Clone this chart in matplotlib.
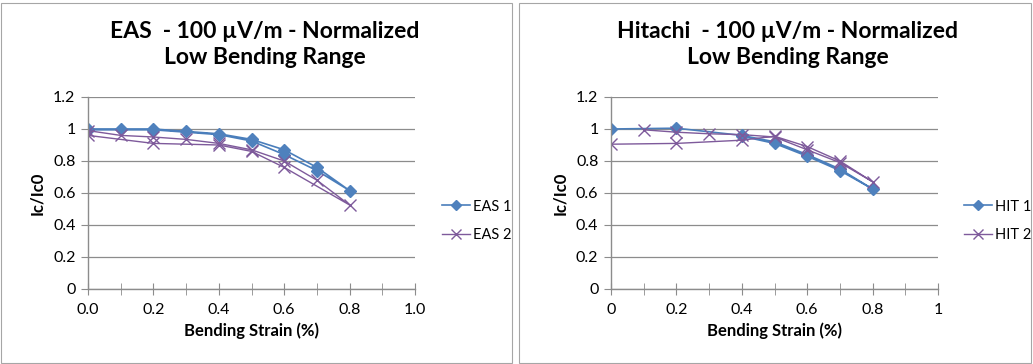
import matplotlib.pyplot as plt
from matplotlib.patches import Rectangle
from matplotlib.ticker import MultipleLocator

plt.rcParams['font.family'] = ['Lato', 'DejaVu Sans']

# EAS - strain sweep out and back
eas_x1 = [0.0, 0.1, 0.2, 0.3, 0.4, 0.5, 0.6, 0.7, 0.8, 0.7, 0.6, 0.5, 0.4, 0.2, 0.0]
eas_y1 = [1.0, 1.0, 1.0, 0.985, 0.97, 0.935, 0.87, 0.76, 0.615, 0.74, 0.84, 0.925, 0.965, 0.995, 0.995]
eas_x2 = [0.0, 0.1, 0.2, 0.3, 0.4, 0.5, 0.6, 0.7, 0.8, 0.6, 0.5, 0.4, 0.2, 0.0]
eas_y2 = [0.99, 0.96, 0.95, 0.935, 0.91, 0.87, 0.80, 0.68, 0.525, 0.76, 0.86, 0.90, 0.91, 0.96]

# Hitachi
hit_x1 = [0.0, 0.2, 0.4, 0.5, 0.6, 0.7, 0.8, 0.7, 0.6, 0.5, 0.4]
hit_y1 = [1.0, 1.005, 0.96, 0.92, 0.84, 0.75, 0.625, 0.74, 0.83, 0.91, 0.955]
hit_x2 = [0.0, 0.2, 0.4, 0.5, 0.6, 0.7, 0.8, 0.7, 0.6, 0.5, 0.4, 0.3, 0.2, 0.1]
hit_y2 = [0.905, 0.91, 0.93, 0.955, 0.89, 0.80, 0.67, 0.79, 0.87, 0.95, 0.965, 0.97, 0.98, 0.995]

blue = '#4A7EBB'
blue_fill = '#4F81BD'
purple = '#7E5A9B'
W, H = 1033, 364

fig = plt.figure(figsize=(W / 100, H / 100), dpi=100)

# chart frames
for x0, x1 in [(1, 512), (519, 1031)]:
    fig.patches.append(Rectangle((x0 / W, 1 / H), (x1 - x0) / W, (H - 4) / H,
                                 transform=fig.transFigure, fill=False,
                                 edgecolor='#A6A6A6', lw=0.8))


def panel(left, right, title, xs, ys, labels, xfmt, leg_pos):
    ax = fig.add_axes([left / W, (H - 289) / H, (right - left) / W, 192 / H])
    ax.plot(xs[0], ys[0], color=blue, lw=1.2, marker='D', ms=6,
            mfc=blue_fill, mec=blue_fill, label=labels[0])
    ax.plot(xs[1], ys[1], color=purple, lw=1.0, marker='x', ms=8,
            mew=1.0, label=labels[1])
    ax.set_xlim(0, 1.0)
    ax.set_ylim(0, 1.2)
    ax.xaxis.set_major_locator(MultipleLocator(0.2))
    ax.xaxis.set_minor_locator(MultipleLocator(0.1))
    ax.yaxis.set_major_locator(MultipleLocator(0.2))
    ax.set_xticklabels([xfmt(round(v, 1)) for v in ax.get_xticks()])
    ax.set_yticklabels([f'{round(v, 1):g}' for v in ax.get_yticks()])
    ax.grid(axis='y', color='#8C8C8C', lw=0.9)
    for s in ['top', 'right']:
        ax.spines[s].set_visible(False)
    for s in ['left', 'bottom']:
        ax.spines[s].set_color('#8C8C8C')
        ax.spines[s].set_linewidth(1.0)
    ax.tick_params(axis='x', which='both', direction='inout', length=8,
                   color='#8C8C8C', labelsize=11.5, pad=6)
    ax.tick_params(axis='y', direction='out', length=5, color='#8C8C8C',
                   labelsize=11.5, pad=4)
    ax.set_xlabel('Bending Strain (%)', fontweight='bold', fontsize=12, labelpad=4)
    ax.set_ylabel('Ic/Ic0', fontweight='bold', fontsize=12, labelpad=6)
    ax.set_title(title, fontweight='bold', fontsize=16.5, pad=24,
                 linespacing=1.25, x=0.54)
    ax.set_axisbelow(True)
    ax.legend(loc='center left', bbox_to_anchor=leg_pos, frameon=False,
              fontsize=10.5, handlelength=1.9, handletextpad=0.25,
              labelspacing=1.0, borderaxespad=0.0, markerscale=0.85)
    return ax


panel(88, 415, 'EAS  - 100 \u00b5V/m - Normalized\nLow Bending Range',
      (eas_x1, eas_x2), (eas_y1, eas_y2), ['EAS 1', 'EAS 2'],
      lambda v: f'{v:.1f}', (1.065, 0.355))
panel(611, 938, 'Hitachi  - 100 \u00b5V/m - Normalized\nLow Bending Range',
      (hit_x1, hit_x2), (hit_y1, hit_y2), ['HIT 1', 'HIT 2'],
      lambda v: f'{v:g}', (1.062, 0.355))

fig.savefig('out.png', dpi=100)
